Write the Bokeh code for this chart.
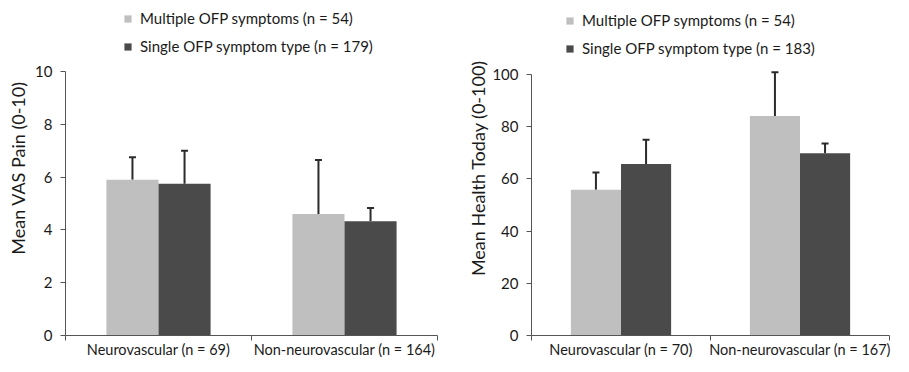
from bokeh.plotting import figure
from bokeh.models import (ColumnDataSource, Whisker, TeeHead, Legend, LegendItem,
                          FixedTicker, Range1d)
from bokeh.layouts import row
from bokeh.embed import file_html
from bokeh.resources import INLINE

# ---- data ----
series_names_left = ["Multiple OFP symptoms (n = 54)", "Single OFP symptom type (n = 179)"]
series_names_right = ["Multiple OFP symptoms (n = 54)", "Single OFP symptom type (n = 183)"]
categories_left = ["Neurovascular (n = 69)", "Non-neurovascular (n = 164)"]
categories_right = ["Neurovascular (n = 70)", "Non-neurovascular (n = 167)"]

vas_multiple = [5.9, 4.6]
vas_multiple_err = [0.85, 2.05]
vas_single = [5.75, 4.33]
vas_single_err = [1.25, 0.5]

health_multiple = [55.9, 84.1]
health_multiple_err = [6.6, 16.8]
health_single = [65.7, 69.9]
health_single_err = [9.3, 3.7]

LIGHT = "#bfbfbf"
DARK = "#4a4a4a"
FONT = "Lato"
TXT = "#1a1a1a"


def make_chart(cats, names, multi, multi_err, single, single_err, ytop, ymax, yticks,
               ylabel, fw, mbl, mbr, legend_xy, label_standoff):
    n = len(cats)
    centers = [i + 0.5 for i in range(n)]
    bw = 0.28
    xm = [c - bw / 2 for c in centers]
    xs = [c + bw / 2 for c in centers]
    p = figure(frame_width=fw, frame_height=335, output_backend="svg",
               toolbar_location=None, title=None,
               x_range=Range1d(0, n), y_range=Range1d(0, ymax),
               min_border_left=mbl, min_border_right=mbr, min_border_bottom=21,
               min_border_top=0)
    p.outline_line_color = None
    p.grid.visible = False
    p.background_fill_color = "white"
    p.border_fill_color = "white"

    src_m = ColumnDataSource(dict(x=xm, top=multi, up=[v + e for v, e in zip(multi, multi_err)]))
    src_s = ColumnDataSource(dict(x=xs, top=single, up=[v + e for v, e in zip(single, single_err)]))

    for src in (src_m, src_s):
        w = Whisker(source=src, base="x", lower="top", upper="up", dimension="height",
                    line_color="#2b2b2b", line_width=2, lower_head=None,
                    upper_head=TeeHead(size=7, line_color="#2b2b2b", line_width=2))
        p.add_layout(w)
    r1 = p.vbar(x="x", top="top", width=bw, bottom=0, source=src_m, fill_color=LIGHT,
                line_color=None)
    r2 = p.vbar(x="x", top="top", width=bw, bottom=0, source=src_s, fill_color=DARK,
                line_color=None)

    # x axis: category names at centres, ticks at category boundaries
    xa = p.xaxis[0]
    xa.ticker = FixedTicker(ticks=centers, minor_ticks=list(range(n + 1)))
    xa.major_label_overrides = {c: lab for c, lab in zip(centers, cats)}
    xa.axis_label = None
    xa.major_tick_out = 0
    xa.major_tick_in = 0
    xa.minor_tick_out = 5
    xa.minor_tick_in = 0
    xa.axis_line_color = "#555555"
    xa.minor_tick_line_color = "#555555"
    xa.major_label_text_font = FONT
    xa.major_label_text_font_size = "14.5px"
    xa.major_label_text_color = TXT
    xa.major_label_standoff = 0
    xa.axis_label_standoff = 0

    # y axis
    ya = p.yaxis[0]
    ya.bounds = (0, ytop)
    ya.ticker = FixedTicker(ticks=yticks)
    ya.minor_tick_line_color = None
    ya.major_tick_out = 5
    ya.major_tick_in = 0
    ya.axis_line_color = "#555555"
    ya.major_tick_line_color = "#555555"
    ya.major_label_text_font = FONT
    ya.major_label_text_font_size = "15px"
    ya.major_label_text_color = TXT
    ya.major_label_standoff = 8
    ya.axis_label = ylabel
    ya.axis_label_text_font = FONT
    ya.axis_label_text_font_style = "normal"
    ya.axis_label_text_font_size = "18px"
    ya.axis_label_text_color = TXT
    ya.axis_label_standoff = label_standoff

    legend = Legend(items=[LegendItem(label=names[0], renderers=[r1]),
                           LegendItem(label=names[1], renderers=[r2])],
                    location=legend_xy, orientation="vertical")
    legend.glyph_width = 9
    legend.glyph_height = 9
    legend.label_height = 17
    legend.spacing = 10
    legend.padding = 0
    legend.margin = 0
    legend.border_line_color = None
    legend.background_fill_alpha = 0
    legend.label_text_font = FONT
    legend.label_text_font_size = "15px"
    legend.label_text_color = TXT
    legend.label_standoff = 8
    p.add_layout(legend)
    return p


left = make_chart(categories_left, series_names_left, vas_multiple, vas_multiple_err,
                  vas_single, vas_single_err, 10, 12.69, [0, 2, 4, 6, 8, 10],
                  "Mean VAS Pain (0-10)", 372, 65, 13, (58, 280), 3)
right = make_chart(categories_right, series_names_right, health_multiple, health_multiple_err,
                   health_single, health_single_err, 100, 128.4, [0, 20, 40, 60, 80, 100],
                   "Mean Health Today (0-100)", 358, 81, 4, (34, 278), 0)

layout = row(left, right)
open("out.html", "w").write(file_html(layout, INLINE))
